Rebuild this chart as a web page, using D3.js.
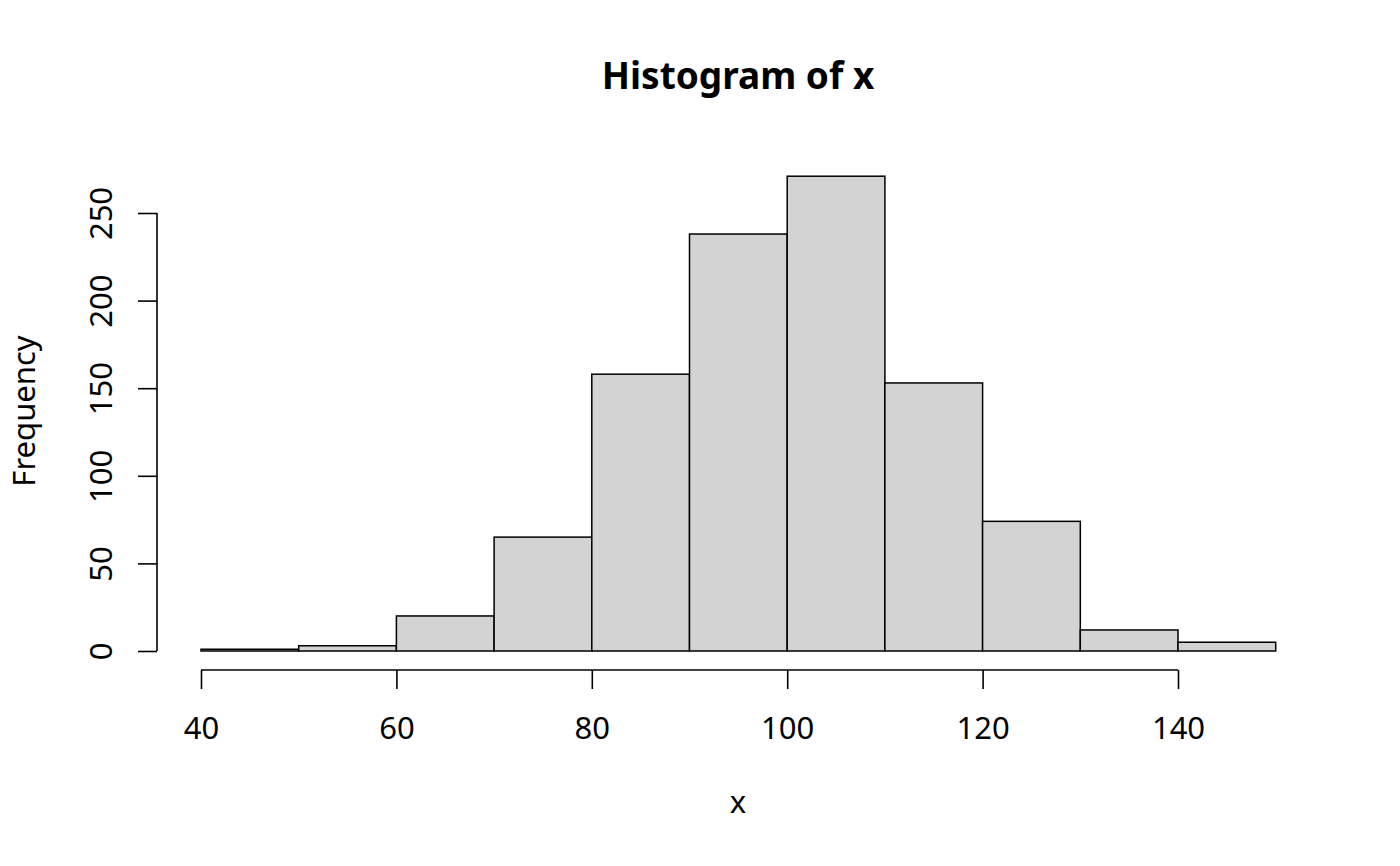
<!DOCTYPE html>
<html>
<head>
<meta charset="utf-8">
<script src="https://cdn.jsdelivr.net/npm/d3@7"></script>
<style>
  body { margin: 0; background: #fff; }
  svg { font-family: "Noto Sans", sans-serif; }
</style>
</head>
<body>
<svg id="svg-chart"></svg>
<script>
const width = 1400;
const height = 866;

// histogram bins (left edges) and counts
const binStarts = [40, 50, 60, 70, 80, 90, 100, 110, 120, 130, 140];
const binWidth = 10;
const counts = [1, 3, 20, 65, 158, 238, 271, 153, 74, 12, 5];
const xTicks = [40, 60, 80, 100, 120, 140];
const yTicks = [0, 50, 100, 150, 200, 250];

const fontSize = 31;

const svg = d3.select("#svg-chart").attr("width", width).attr("height", height);

const xScale = d3.scaleLinear().domain([40, 140]).range([201, 1178]);
const yScale = d3.scaleLinear().domain([0, 250]).range([651, 213]);

// bars
svg
  .selectAll("rect.bar")
  .data(binStarts)
  .join("rect")
  .attr("class", "bar")
  .attr("x", function (d) {
    return xScale(d);
  })
  .attr("width", function (d) {
    return xScale(d + binWidth) - xScale(d);
  })
  .attr("y", function (d, i) {
    return yScale(counts[i]);
  })
  .attr("height", function (d, i) {
    return yScale(0) - yScale(counts[i]);
  })
  .attr("fill", "#d3d3d3")
  .attr("stroke", "#000")
  .attr("stroke-width", 1.5);

// bottom axis
const axisBottom = d3.axisBottom(xScale).tickValues(xTicks).tickSize(19);
const gx = svg.append("g").attr("transform", "translate(0,670)").call(axisBottom);
gx.select(".domain").attr("d", "M" + xScale(40) + ",0H" + xScale(140));
gx.selectAll("line, path").attr("stroke", "#000").attr("stroke-width", 1.6);
gx.selectAll("text")
  .attr("font-size", fontSize)
  .attr("font-family", "Noto Sans")
  .attr("fill", "#000")
  .attr("y", 69)
  .attr("dy", null);

// left axis
const axisLeft = d3.axisLeft(yScale).tickValues(yTicks).tickSize(19);
const gy = svg.append("g").attr("transform", "translate(157,0)").call(axisLeft);
gy.select(".domain").attr("d", "M0," + yScale(0) + "V" + yScale(250));
gy.selectAll("line, path").attr("stroke", "#000").attr("stroke-width", 1.6);
gy.selectAll("text")
  .attr("font-size", fontSize)
  .attr("font-family", "Noto Sans")
  .attr("fill", "#000")
  .attr("x", null)
  .attr("dy", null)
  .attr("text-anchor", "middle")
  .attr("transform", "translate(-45,0) rotate(-90)");

// title and axis labels
svg.append("text")
  .attr("x", 738)
  .attr("y", 89)
  .attr("text-anchor", "middle")
  .attr("font-size", 37)
  .attr("font-weight", "bold")
  .text("Histogram of x");

svg.append("text")
  .attr("x", 738)
  .attr("y", 813)
  .attr("text-anchor", "middle")
  .attr("font-size", fontSize)
  .text("x");

svg.append("text")
  .attr("transform", "translate(35,411) rotate(-90)")
  .attr("text-anchor", "middle")
  .attr("font-size", fontSize)
  .text("Frequency");
</script>
</body>
</html>
